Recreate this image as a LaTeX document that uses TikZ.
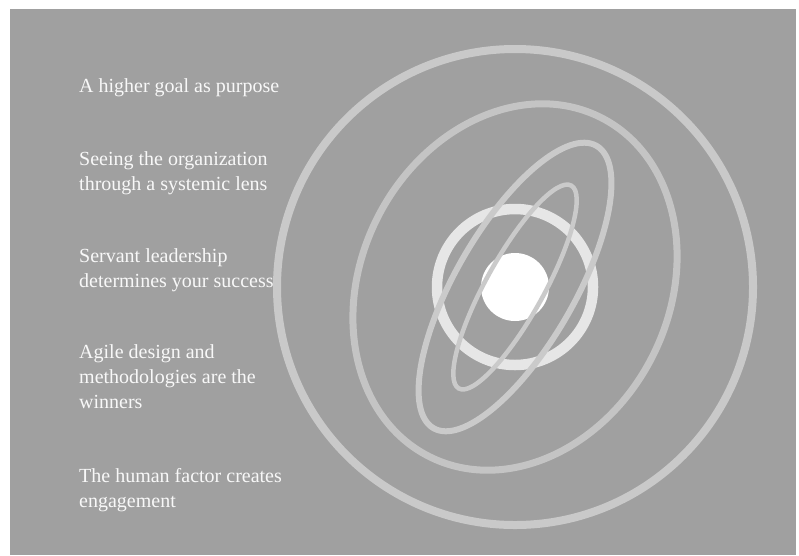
\documentclass[tikz,border=0pt]{standalone}
\usepackage{fontspec}
\setmainfont{Liberation Serif}
\definecolor{bggray}{HTML}{A0A0A0}
\definecolor{outergray}{HTML}{C9C9C9}
\definecolor{midgray}{HTML}{C4C4C4}
\definecolor{orbitgray}{HTML}{CACACA}
\definecolor{ringgray}{HTML}{E6E6E6}
\definecolor{txtwhite}{HTML}{F8F8F8}

\begin{document}
\begin{tikzpicture}[x=1pt,y=-1pt,
    lbl/.style={anchor=base west,align=left,inner sep=0pt,text=txtwhite,
      font=\fontsize{20}{25}\selectfont},
    orbit/.style={draw=orbitgray}]
      \useasboundingbox (0,0) rectangle (799,555);
      %background
      \fill[white] (0,0) rectangle (799,555);
      \fill[bggray] (10,9) rectangle (796,555);

      %statements (anchored at the baseline of their last line)
      \node[lbl] (goal) at (79,92) {A higher goal as purpose};
      \node[lbl] (system) at (79,190) {Seeing the organization\\through a systemic lens};
      \node[lbl] (servant) at (79,287) {Servant leadership\\determines your success};
      \node[lbl] (agile) at (79,408) {Agile design and\\methodologies are the\\winners};
      \node[lbl] (human) at (79,507) {The human factor creates\\engagement};

      %circles and orbits
      \coordinate (ctr) at (515,287);
      \draw[outergray,line width=8pt] (ctr) circle [radius=238];
      \draw[midgray,line width=7pt,rotate around={63:(ctr)}] (ctr) ellipse [x radius=190, y radius=154];
      \draw[ringgray,line width=10.5pt] (ctr) circle [radius=78];
      \fill[white] (ctr) circle [radius=34];
      \draw[orbit,line width=6pt,rotate around={60:(ctr)}] (ctr) ellipse [x radius=163, y radius=59.5];
      \draw[orbit,line width=4.5pt,rotate around={61:(ctr)}] (ctr) ellipse [x radius=116, y radius=29];
    \end{tikzpicture}
\end{document}
